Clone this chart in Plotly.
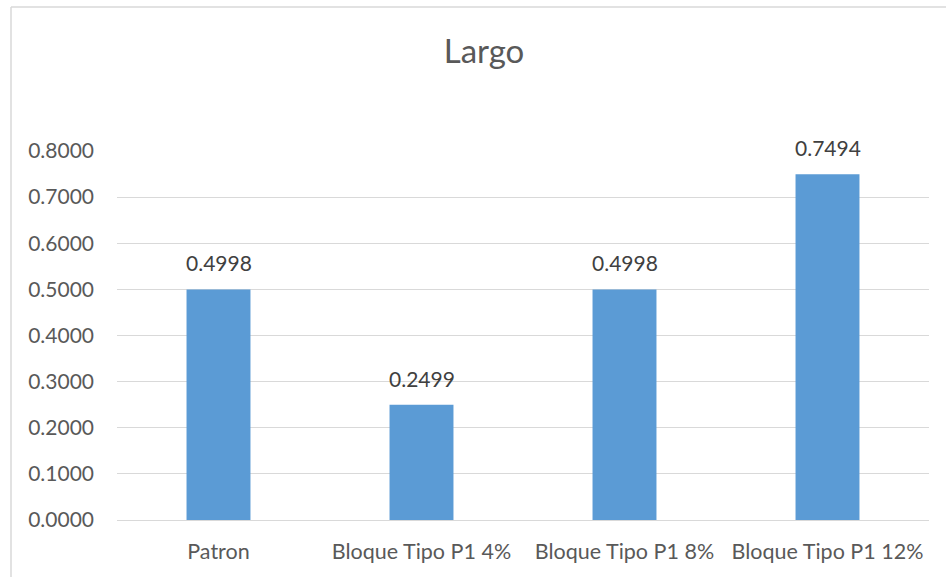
import plotly.graph_objects as go

categories = ["Patron", "Bloque Tipo P1 4%", "Bloque Tipo P1 8%", "Bloque Tipo P1 12%"]
values = [0.4998, 0.2499, 0.4998, 0.7494]
tick_values = [0.0, 0.1, 0.2, 0.3, 0.4, 0.5, 0.6, 0.7, 0.8]
tick_labels = [f"{v:.4f}" for v in tick_values]

W, H = 946, 577
L, R, T, B = 117, 17, 151, 57
plot_w = W - L - R
plot_h = H - T - B

FONT = "Lato, 'Open Sans', sans-serif"

fig = go.Figure(
    go.Bar(
        x=categories,
        y=values,
        width=0.315,
        marker=dict(color="#5B9BD5", line=dict(width=0)),
        hoverinfo="x+y",
    )
)

# value labels above each bar
for c, v in zip(categories, values):
    fig.add_annotation(
        x=c, y=v, xref="x", yref="y",
        text=f"{v:.4f}",
        showarrow=False,
        yanchor="bottom",
        yshift=12,
        font=dict(family=FONT, size=21, color="#404040"),
    )

# chart-area border (left and top edges visible)
bx = (11 - L) / plot_w
by = 1 + (T - 7) / plot_h
fig.add_shape(type="line", xref="paper", yref="paper", x0=bx, x1=bx, y0=by, y1=-2,
              line=dict(color="#d9d9d9", width=1.5))
fig.add_shape(type="line", xref="paper", yref="paper", x0=bx, x1=2, y0=by, y1=by,
              line=dict(color="#d9d9d9", width=1.5))

fig.update_layout(
    width=W,
    height=H,
    margin=dict(l=L, r=R, t=T, b=B),
    paper_bgcolor="white",
    plot_bgcolor="white",
    showlegend=False,
    title=dict(
        text="Largo",
        x=484 / W,
        xanchor="center",
        y=1 - 51 / H,
        yanchor="middle",
        font=dict(family=FONT, size=33, color="#595959"),
    ),
    xaxis=dict(
        showgrid=False,
        showline=False,
        ticks="",
        tickfont=dict(family=FONT, size=21.5, color="#595959"),
        ticklabelstandoff=16,
    ),
    yaxis=dict(
        range=[0, 0.8],
        tickvals=tick_values,
        ticktext=tick_labels,
        showgrid=True,
        gridcolor="#d9d9d9",
        gridwidth=1,
        zeroline=True,
        zerolinecolor="#d9d9d9",
        zerolinewidth=1,
        showline=False,
        ticks="",
        tickfont=dict(family=FONT, size=21, color="#595959"),
        ticklabelstandoff=22,
    ),
)

fig.write_html("out.html")
